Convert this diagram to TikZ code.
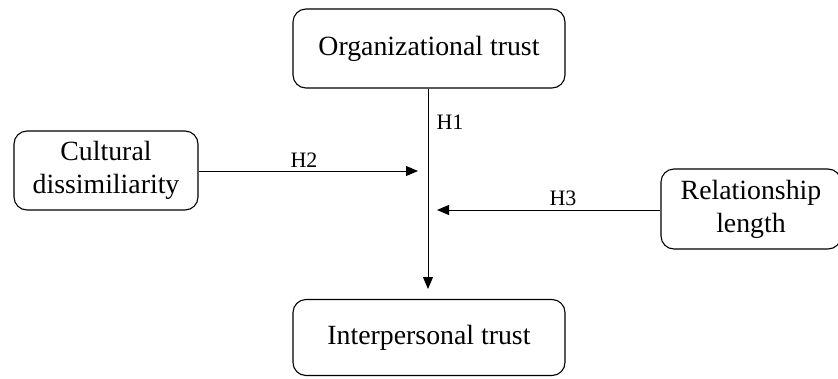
\documentclass[tikz,border=0pt]{standalone}
\usepackage{fontspec}
\setmainfont{Liberation Serif}
\usetikzlibrary{arrows.meta}
\begin{document}
\begin{tikzpicture}[x=1pt,y=-1pt,
  box/.style={draw, line width=1.1pt, rounded corners=13pt, align=center,
    font=\fontsize{27.8}{33}\selectfont, inner sep=0pt},
  conn/.style={line width=0.9pt, -{Triangle[length=12pt,width=10pt]}},
  hlab/.style={font=\fontsize{22}{24}\selectfont, inner sep=0pt}]
\useasboundingbox (0,0) rectangle (838,378);
\node[box, minimum width=272pt, minimum height=79pt] (org) at (429,48.5) {Organizational trust};
\node[box, minimum width=272pt, minimum height=76pt] (inter) at (429,337.5) {Interpersonal trust};
\node[box, minimum width=184pt, minimum height=79pt] (cult) at (106,170.5) {Cultural\\dissimiliarity};
\node[box, minimum width=180pt, minimum height=80pt] (rel) at (751,209) {Relationship\\length};
\coordinate (h2end) at (418,171);
\coordinate (h3end) at (437,210);
\draw[conn] (org.south -| 428,0) -- (428,289) coordinate (h1end);
\draw[conn] (cult.east |- h2end) -- (h2end);
\draw[conn] (rel.west |- h3end) -- (h3end);
\node[hlab] (h1) at (450,122.5) {H1};
\node[hlab] (h2) at (304,160) {H2};
\node[hlab] (h3) at (563,198) {H3};
\end{tikzpicture}
\end{document}
